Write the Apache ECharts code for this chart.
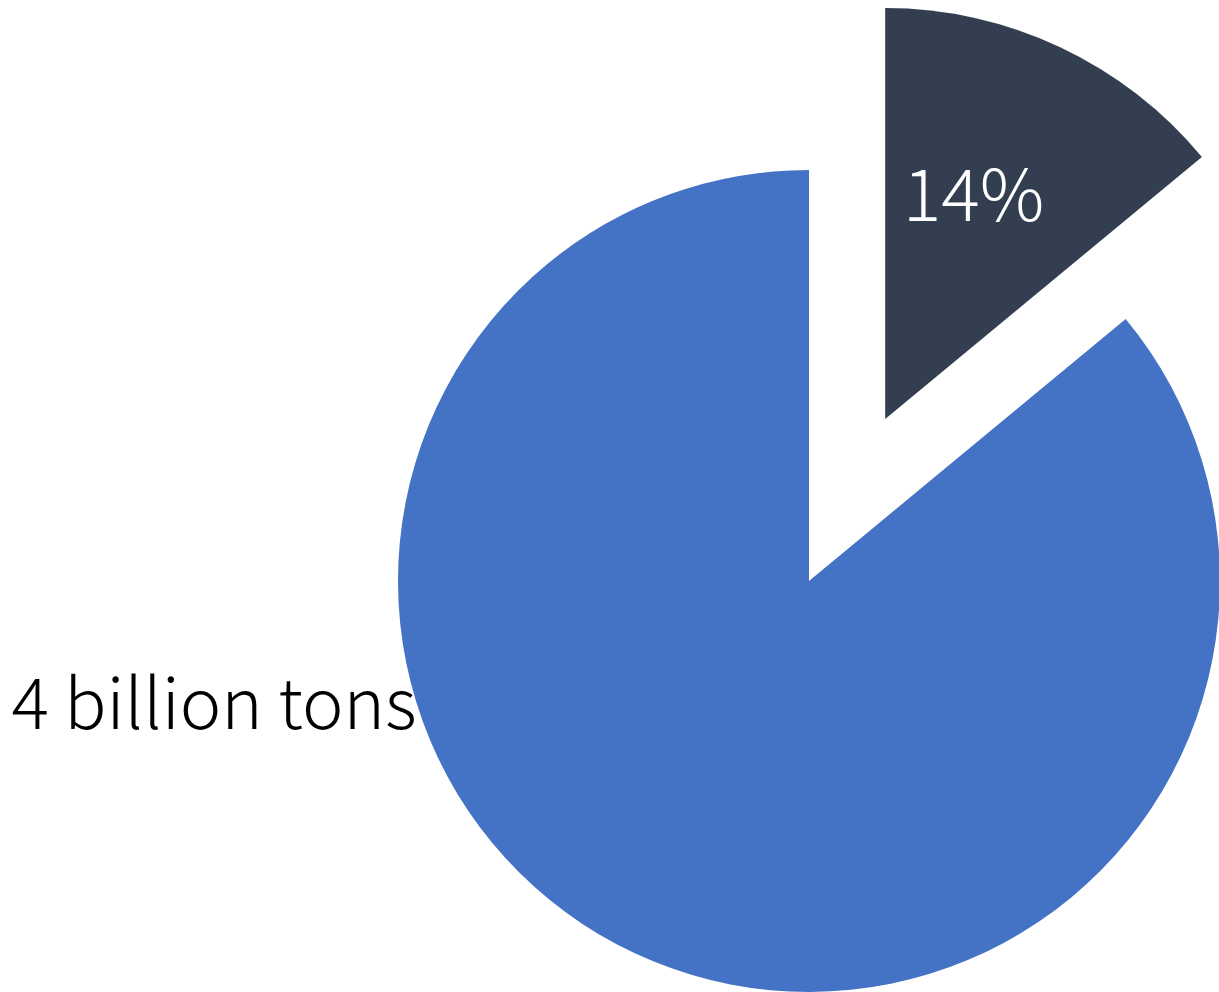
<!DOCTYPE html>
<html>
<head>
<meta charset="utf-8">
<script src="https://cdn.jsdelivr.net/npm/echarts@6/dist/echarts.min.js"></script>
<style>
html,body{margin:0;padding:0;background:#fff;}
#chart{width:1219px;height:992px;}
</style>
</head>
<body>
<div id="chart"></div>
<script>
const categories = ['Share', 'Other'];
const values = [14, 86];
const labels = ['14%', '4 billion tons'];
const colors = ['#333F50', '#4472C4'];

const chart = echarts.init(document.getElementById('chart'), null, {renderer: 'canvas'});
const fontFamily = '"Noto Sans CJK JP", "Noto Sans", sans-serif';
const labelPositions = ['inside', 'center'];
const labelOffsets = [[-70, -20], [-595, 121]];
const labelColors = ['#fff', '#000'];
const labelSizes = [72, 70];
const data = categories.map((c, i) => {
  const lbl = {
    show: true,
    position: labelPositions[i],
    formatter: labels[i],
    color: labelColors[i],
    fontSize: labelSizes[i],
    fontWeight: 300,
    fontFamily: fontFamily,
    offset: labelOffsets[i]
  };
  return {
    name: c,
    value: values[i],
    selected: i === 0,
    itemStyle: {color: colors[i]},
    label: lbl,
    select: {label: Object.assign({}, lbl), itemStyle: {color: colors[i]}}
  };
});

chart.setOption({
  animation: false,
  series: [{
    type: 'pie',
    center: [809, 581],
    radius: [0, 411],
    startAngle: 90,
    clockwise: true,
    selectedMode: 'single',
    selectedOffset: 179,
    labelLine: {show: false},
    emphasis: {disabled: true},
    itemStyle: {borderWidth: 0},
    data: data
  }]
});
</script>
</body>
</html>
